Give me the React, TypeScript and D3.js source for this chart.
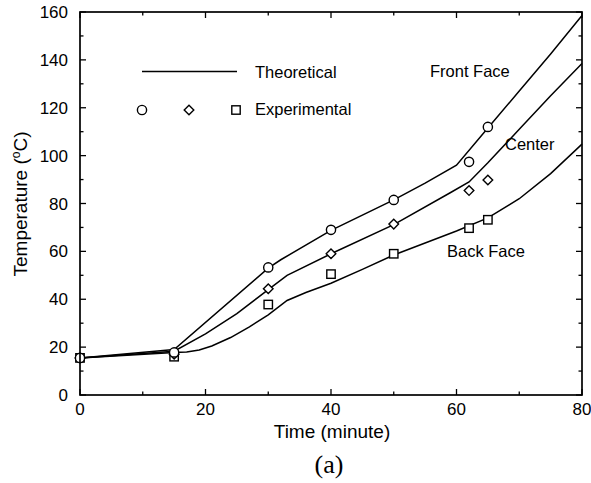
import React from "react";
import * as d3 from "d3";

const frontFace: [number, number][] = [
  [0, 15.5], [15, 19], [30, 53], [32, 56.5], [40, 68.8], [50, 81.5], [55, 88.5],
  [60, 96], [65, 111.5], [70, 127], [75, 142.5], [80, 158.5],
];
const center: [number, number][] = [
  [0, 15.5], [15, 18.3], [20, 25.5], [25, 34], [30, 44], [33, 50], [40, 59],
  [50, 71.2], [59, 84.5], [62, 89], [65, 97], [70, 111], [75, 125], [80, 138.5],
];
const backFace: [number, number][] = [
  [0, 15.5], [15, 17.8], [17, 18], [19, 18.8], [21, 20.5], [24, 24], [27, 28.5],
  [30, 33.5], [33, 39.5], [36, 42.8], [40, 46.7], [45, 52.5], [50, 58.5],
  [55, 63.5], [60, 68.5], [65, 74], [70, 82], [75, 92.5], [80, 104.8],
];

const circlesExp: [number, number][] = [
  [0, 15.5], [15, 17.8], [30, 53.3], [40, 69], [50, 81.5], [62, 97.4], [65, 112],
];
const diamondsExp: [number, number][] = [
  [0, 15.5], [15, 17], [30, 44.4], [40, 59], [50, 71.4], [62, 85.4], [65, 89.8],
];
const squaresExp: [number, number][] = [
  [0, 15.5], [15, 16], [30, 37.8], [40, 50.5], [50, 59], [62, 69.7], [65, 73.2],
];

const xTicks = [0, 20, 40, 60, 80];
const xMinor = [10, 30, 50, 70];
const yTicks = [0, 20, 40, 60, 80, 100, 120, 140, 160];
const yMinor = [10, 30, 50, 70, 90, 110, 130, 150];

const W = 591;
const H = 483;
const L = 80, R = 582, T = 12, B = 395;
const FONT = "'Liberation Sans', Arial, Helvetica, sans-serif";

export default function App() {
  const x = d3.scaleLinear().domain([0, 80]).range([L, R]);
  const y = d3.scaleLinear().domain([0, 160]).range([B, T]);
  const line = d3.line<[number, number]>().x(d => x(d[0])).y(d => y(d[1]));

  const majorLen = 6;
  const minorLen = 3.5;

  const circleMark = (cx: number, cy: number, k: string) => (
    <circle key={k} cx={cx} cy={cy} r={4.6} fill="white" stroke="black" strokeWidth={1.4} />
  );
  const diamondMark = (cx: number, cy: number, k: string) => (
    <path key={k} d={`M${cx},${cy - 4.8}L${cx + 4.8},${cy}L${cx},${cy + 4.8}L${cx - 4.8},${cy}Z`}
      fill="white" stroke="black" strokeWidth={1.4} />
  );
  const squareMark = (cx: number, cy: number, k: string) => (
    <rect key={k} x={cx - 4.2} y={cy - 4.2} width={8.4} height={8.4} fill="white" stroke="black" strokeWidth={1.4} />
  );

  return (
    <svg width={W} height={H} style={{ position: "absolute", left: 0, top: 0, background: "white" }}
      fontFamily={FONT}>
      <rect x={0} y={0} width={W} height={H} fill="white" />
      {[frontFace, center, backFace].map((s, i) => (
        <path key={i} d={line(s) || ""} fill="none" stroke="black" strokeWidth={1.5} />
      ))}
      {squaresExp.map((d, i) => squareMark(x(d[0]), y(d[1]), "s" + i))}
      {diamondsExp.map((d, i) => diamondMark(x(d[0]), y(d[1]), "d" + i))}
      {circlesExp.map((d, i) => circleMark(x(d[0]), y(d[1]), "c" + i))}

      <rect x={L} y={T} width={R - L} height={B - T} fill="none" stroke="black" strokeWidth={1.7} />
      {xTicks.map(t => (
        <g key={"xt" + t}>
          <line x1={x(t)} x2={x(t)} y1={B} y2={B - majorLen} stroke="black" strokeWidth={1.3} />
          <line x1={x(t)} x2={x(t)} y1={T} y2={T + majorLen} stroke="black" strokeWidth={1.3} />
          <text x={x(t)} y={415} textAnchor="middle" fontSize={17}>{t}</text>
        </g>
      ))}
      {xMinor.map(t => (
        <g key={"xm" + t}>
          <line x1={x(t)} x2={x(t)} y1={B} y2={B - minorLen} stroke="black" strokeWidth={1.3} />
          <line x1={x(t)} x2={x(t)} y1={T} y2={T + minorLen} stroke="black" strokeWidth={1.3} />
        </g>
      ))}
      {yTicks.map(t => (
        <g key={"yt" + t}>
          <line x1={L} x2={L + majorLen} y1={y(t)} y2={y(t)} stroke="black" strokeWidth={1.3} />
          <line x1={R} x2={R - majorLen} y1={y(t)} y2={y(t)} stroke="black" strokeWidth={1.3} />
          <text x={68} y={y(t) + 6} textAnchor="end" fontSize={17}>{t}</text>
        </g>
      ))}
      {yMinor.map(t => (
        <g key={"ym" + t}>
          <line x1={L} x2={L + minorLen} y1={y(t)} y2={y(t)} stroke="black" strokeWidth={1.3} />
          <line x1={R} x2={R - minorLen} y1={y(t)} y2={y(t)} stroke="black" strokeWidth={1.3} />
        </g>
      ))}

      <text x={332} y={438} textAnchor="middle" fontSize={19}>Time (minute)</text>
      <text transform={`translate(27,204) rotate(-90)`} textAnchor="middle" fontSize={19}>
        Temperature (<tspan dy={-7} fontSize={12}>o</tspan><tspan dy={7}>C)</tspan>
      </text>
      <text x={329} y={473} textAnchor="middle" fontSize={26}
        fontFamily="'Liberation Serif', 'DejaVu Serif', serif">(a)</text>

      <line x1={142} x2={237} y1={71.5} y2={71.5} stroke="black" strokeWidth={1.5} />
      <text x={255} y={77.5} fontSize={16.5}>Theoretical</text>
      {circleMark(142, 110, "lc")}
      {diamondMark(189, 110, "ld")}
      {squareMark(236, 110, "ls")}
      <text x={255} y={114.5} fontSize={16.5}>Experimental</text>

      <text x={430} y={76.5} fontSize={16.5}>Front Face</text>
      <text x={505} y={150} fontSize={16.5}>Center</text>
      <text x={447} y={256.5} fontSize={16.5}>Back Face</text>
    </svg>
  );
}
